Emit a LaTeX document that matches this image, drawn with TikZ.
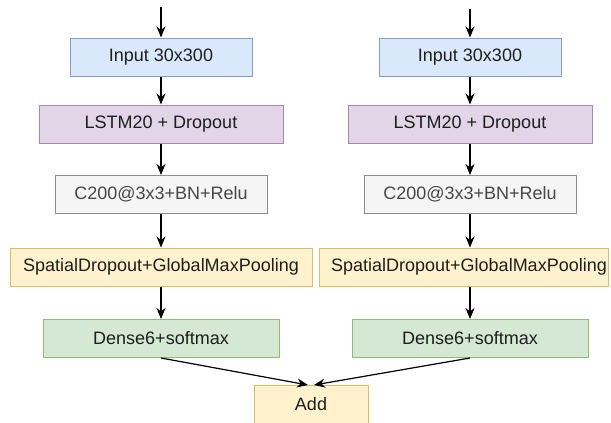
\documentclass[tikz,border=0pt]{standalone}
\usepackage{fontspec}
\setmainfont{Liberation Sans}
\usetikzlibrary{arrows.meta}

\definecolor{blueFill}{HTML}{DAE8FC}\definecolor{blueLine}{HTML}{6C8EBF}
\definecolor{purpleFill}{HTML}{E1D5E7}\definecolor{purpleLine}{HTML}{9673A6}
\definecolor{grayFill}{HTML}{F5F5F5}\definecolor{grayLine}{HTML}{666666}
\definecolor{yellowFill}{HTML}{FFF2CC}\definecolor{yellowLine}{HTML}{D6B656}
\definecolor{greenFill}{HTML}{D5E8D4}\definecolor{greenLine}{HTML}{82B366}
\definecolor{txt}{HTML}{1E1E1E}

\tikzset{
  layer/.style={draw, line width=1pt, inner sep=0pt, minimum height=38pt,
    text=txt, font=\fontsize{18}{20}\selectfont},
  inputbox/.style={layer, fill=blueFill, draw=blueLine!85, minimum width=182pt},
  lstmbox/.style={layer, fill=purpleFill, draw=purpleLine!85, minimum width=244pt},
  convbox/.style={layer, fill=grayFill, draw=grayLine!75, minimum width=212pt, text=grayLine!70!black},
  poolbox/.style={layer, fill=yellowFill, draw=yellowLine!90},
  densebox/.style={layer, fill=greenFill, draw=greenLine!90, minimum width=236pt},
  addbox/.style={layer, fill=yellowFill, draw=yellowLine!90, minimum width=114pt},
  flow/.style={draw=black, line width=1.2pt, -{Stealth[length=11pt, width=9pt, inset=3.5pt]}}
}

\begin{document}
\begin{tikzpicture}[x=1pt, y=-1pt]
  \useasboundingbox (0,0) rectangle (611,423);

  % left branch
  \coordinate (inL) at (161,7);
  \node[inputbox] (iL) at (161,57) {Input 30x300};
  \node[lstmbox]  (lL) at (161,124) {LSTM20 + Dropout};
  \node[convbox]  (cL) at (161,194.5) {C200@3x3+BN+Relu};
  \node[poolbox, minimum width=302pt] (pL) at (161,267) {SpatialDropout+GlobalMaxPooling};
  \node[densebox] (dL) at (161,338.5) {Dense6+softmax};

  % right branch
  \coordinate (inR) at (470,9);
  \node[inputbox] (iR) at (470,57) {Input 30x300};
  \node[lstmbox]  (lR) at (470,124) {LSTM20 + Dropout};
  \node[convbox]  (cR) at (470,194.5) {C200@3x3+BN+Relu};
  \node[poolbox, minimum width=289pt] (pR) at (463.5,267) {\hspace*{11pt}SpatialDropout+GlobalMaxPooling};
  \node[densebox] (dR) at (470,338.5) {Dense6+softmax};

  % merge
  \node[addbox] (add) at (311,404.5) {Add};

  \foreach \s in {L,R} {
    \draw[flow] (in\s) -- (i\s);
    \draw[flow] (i\s) -- (l\s);
    \draw[flow] (l\s) -- (c\s);
    \draw[flow] (c\s) -- (c\s |- p\s.north);
    \draw[flow] (c\s |- p\s.south) -- (d\s);
  }
  \draw[flow] (dL.south) -- ([xshift=-3pt]add.north);
  \draw[flow] (dR.south) -- ([xshift=3pt]add.north);
\end{tikzpicture}
\end{document}
